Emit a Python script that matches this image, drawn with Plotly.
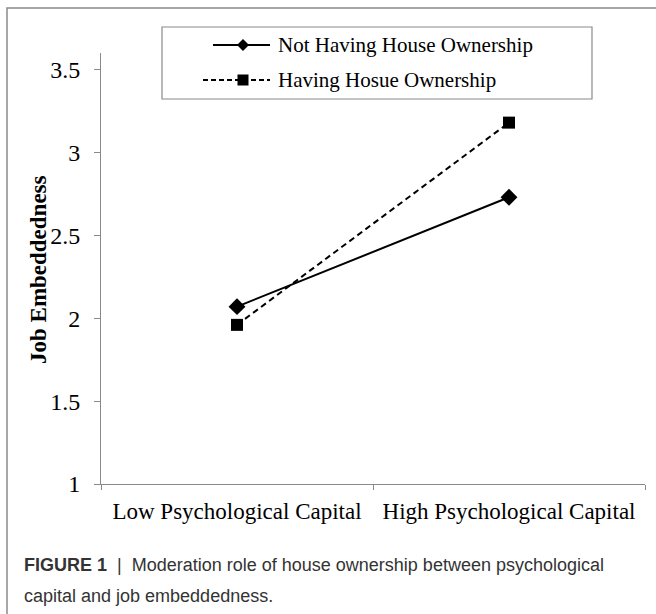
import plotly.graph_objects as go

categories = ["Low Psychological Capital", "High Psychological Capital"]
not_having = [2.07, 2.73]
having = [1.96, 3.18]
series_names = ["Not Having House Ownership", "Having Hosue Ownership"]
y_ticks = [1, 1.5, 2, 2.5, 3, 3.5]
y_tick_labels = ["1", "1.5", "2", "2.5", "3", "3.5"]

W, H = 656, 614
L, R, T, B = 101, 11, 53, 130
PW, PH = W - L - R, H - T - B

def px(x):
    return (x - L) / PW

def py(y):
    return (H - B - y) / PH

serif = "Liberation Serif, Times New Roman, serif"
sans = "Liberation Sans, Arial, sans-serif"
grey = "#8a8a8a"

fig = go.Figure()
fig.add_trace(go.Scatter(
    x=categories, y=not_having, name=series_names[0], mode="lines+markers",
    line=dict(color="black", width=2, dash="solid"),
    marker=dict(symbol="diamond", size=13, color="black"),
    showlegend=False,
))
fig.add_trace(go.Scatter(
    x=categories, y=having, name=series_names[1], mode="lines+markers",
    line=dict(color="black", width=2, dash="6px,4px"),
    marker=dict(symbol="square", size=12, color="black"),
    showlegend=False,
))

# legend drawn as a box with sample lines, markers and text
leg_rows = [45, 80]
shapes = [
    dict(type="rect", xref="paper", yref="paper",
         x0=px(7), x1=px(720), y0=py(720), y1=py(8),
         line=dict(color=grey, width=1.5), layer="below"),
    dict(type="rect", xref="paper", yref="paper",
         x0=px(162), x1=px(592), y0=py(99), y1=py(27),
         line=dict(color=grey, width=1.2), fillcolor="white", layer="above"),
    dict(type="line", xref="paper", yref="paper",
         x0=px(213), x1=px(270), y0=py(leg_rows[0]), y1=py(leg_rows[0]),
         line=dict(color="black", width=2)),
    dict(type="line", xref="paper", yref="paper",
         x0=px(203), x1=px(270), y0=py(leg_rows[1]), y1=py(leg_rows[1]),
         line=dict(color="black", width=2, dash="5px,3px")),
]
cx, cy, d = 243, leg_rows[0], 6
shapes.append(dict(type="path", xref="paper", yref="paper",
                   path=f"M {px(cx-d)} {py(cy)} L {px(cx)} {py(cy-d)} L {px(cx+d)} {py(cy)} L {px(cx)} {py(cy+d)} Z",
                   fillcolor="black", line=dict(color="black", width=0)))
cy2, s = leg_rows[1], 5.5
shapes.append(dict(type="rect", xref="paper", yref="paper",
                   x0=px(cx-s), x1=px(cx+s), y0=py(cy2+s), y1=py(cy2-s),
                   fillcolor="black", line=dict(color="black", width=0)))

annotations = [
    dict(xref="paper", yref="paper", x=px(276), y=py(leg_rows[i]), xanchor="left", yanchor="middle",
         text=series_names[i], showarrow=False,
         font=dict(family=serif, size=21, color="black"))
    for i in range(2)
]
annotations += [
    dict(xref="paper", yref="paper", x=px(38), y=py(270), xanchor="center", yanchor="middle",
         text="<b>Job Embeddedness</b>", textangle=-90, showarrow=False,
         font=dict(family=serif, size=23, color="black")),
    dict(xref="paper", yref="paper", x=px(22), y=py(565), xanchor="left", yanchor="middle",
         text="<b>FIGURE 1</b>  |  Moderation role of house ownership between psychological",
         showarrow=False, align="left",
         font=dict(family=sans, size=18, color="#333333")),
    dict(xref="paper", yref="paper", x=px(22), y=py(596), xanchor="left", yanchor="middle",
         text="capital and job embeddedness.",
         showarrow=False, align="left",
         font=dict(family=sans, size=18, color="#333333")),
]

fig.update_layout(
    width=W, height=H,
    margin=dict(l=L, r=R, t=T, b=B, autoexpand=False),
    paper_bgcolor="white", plot_bgcolor="white",
    showlegend=False,
    xaxis=dict(
        type="category", range=[-0.5, 1.5],
        showline=True, linecolor=grey, linewidth=1,
        ticks="outside", tickson="boundaries", ticklen=5, tickcolor=grey,
        showgrid=False, zeroline=False, ticklabelstandoff=6,
        tickfont=dict(family=serif, size=23, color="black"),
    ),
    yaxis=dict(
        range=[1, 3.6], tickvals=y_ticks, ticktext=y_tick_labels,
        showline=True, linecolor=grey, linewidth=1,
        ticks="outside", ticklen=6, tickcolor=grey,
        showgrid=False, zeroline=False, ticklabelstandoff=9,
        tickfont=dict(family=serif, size=24, color="black"),
    ),
    shapes=shapes,
    annotations=annotations,
)

fig.write_html("out.html", config={"displayModeBar": False},
               post_script="document.body.style.margin='0px';")
